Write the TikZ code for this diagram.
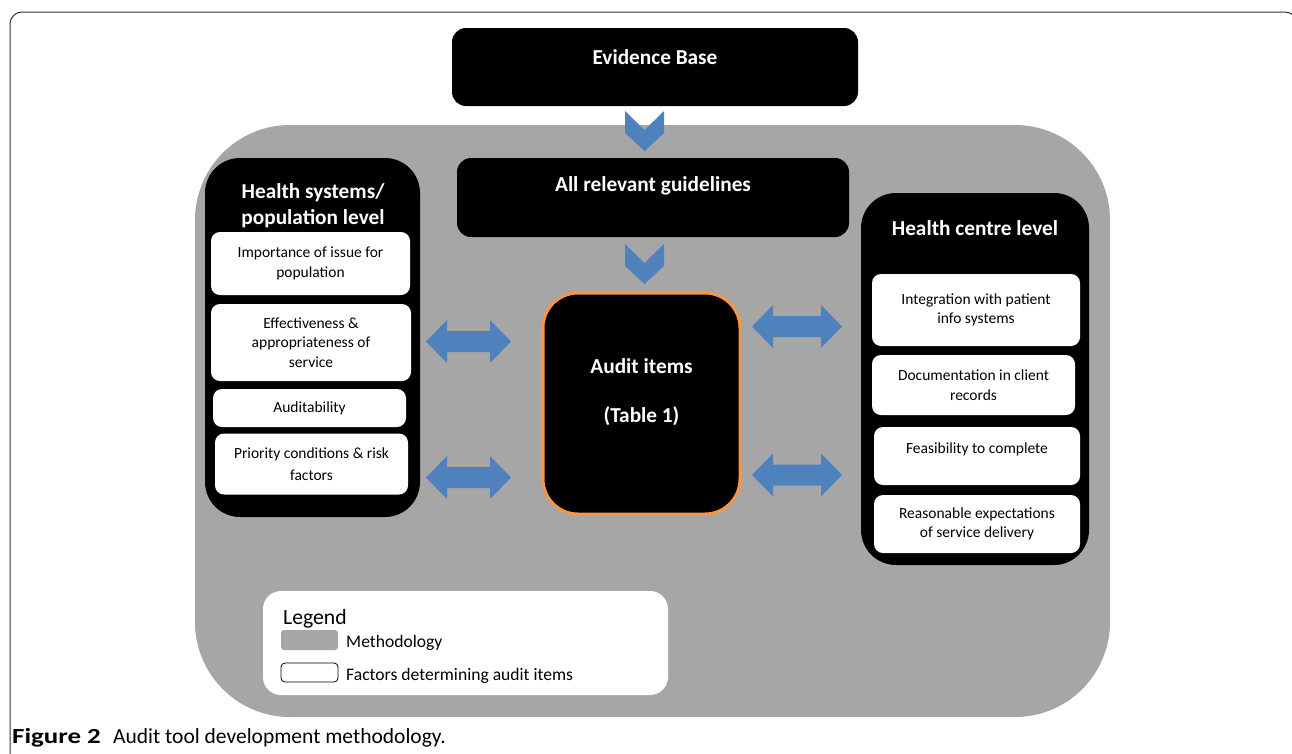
\documentclass[tikz,border=0pt]{standalone}
\usepackage{fontspec}
\setmainfont{Carlito}
\usetikzlibrary{positioning}
\definecolor{method}{RGB}{166,166,166}
\definecolor{steel}{RGB}{79,129,189}
\definecolor{tangerine}{RGB}{247,150,70}
\definecolor{frameline}{RGB}{50,50,50}
\tikzset{
  panel/.style={fill=black,rounded corners=#1,inner sep=0pt},
  panel/.default=14pt,
  factor/.style={fill=white,rounded corners=9pt,inner sep=0pt,align=center,
    font=\fontsize{15.5}{19.5}\selectfont},
  heading/.style={text=white,align=center,font=\fontsize{21.3}{26}\selectfont\bfseries},
  legendtxt/.style={anchor=west,inner sep=0pt,font=\fontsize{17.6}{20}\selectfont},
  % blue block arrows
  pics/chevron/.style={code={
    \fill[steel] (-19.5,-20) -- (0,-1) -- (19.5,-20) -- (19.5,2) -- (0,20) -- (-19.5,2) -- cycle;
  }},
  pics/dblarrow/.style={code={
    \fill[steel] (-#1,0) -- ({-#1+21},-21.5) -- ({-#1+21},-10.5) -- ({#1-21},-10.5) -- ({#1-21},-21.5)
      -- (#1,0) -- ({#1-21},21.5) -- ({#1-21},10.5) -- ({-#1+21},10.5) -- ({-#1+21},21.5) -- cycle;
  }},
  pics/dblarrow/.default=42.5,
}

\begin{document}
\begin{tikzpicture}[x=1pt,y=-1pt]
  \useasboundingbox (0,0) rectangle (1292,753);
  \draw[frameline,line width=1pt,rounded corners=12pt] (1297,770) -- (1297,12) -- (10,12) -- (10,770);
  % methodology area
  \node[fill=method,rounded corners=95pt,inner sep=0pt,minimum width=915pt,minimum height=592pt] (methodarea) at (652.5,421) {};
  % top boxes
  \node[panel,minimum width=406pt,minimum height=78pt] (evidence) at (655,67) {};
  \node[heading] (evidencetxt) at (655,57) {Evidence Base};
  \node[panel,minimum width=392pt,minimum height=79pt] (guides) at (653,197.5) {};
  \node[heading] (guidestxt) at (653,186) {All relevant guidelines};
  \pic (down1) at (644.5,131) {chevron};
  \pic (down2) at (644.5,264) {chevron};
  % audit items
  \node[panel=35pt,draw=tangerine,line width=3pt,minimum width=197pt,minimum height=221pt] (audit) at (641.5,403.5) {};
  \node[heading,font=\fontsize{21.3}{25}\selectfont\bfseries] (audittxt) at (641.5,392.5) {Audit items\\[24pt](Table 1)};
  % health systems level
  \node[panel=35pt,minimum width=215pt,minimum height=359pt] (population) at (312.5,337.5) {};
  \node[heading] (populationtxt) at (313,206) {Health systems/\\population level};
  \node[factor,minimum width=199pt,minimum height=63pt] (importance) at (310.5,263.5) {Importance of issue for\\population};
  \node[factor,minimum width=200pt,minimum height=77pt] (effective) at (311,342.5) {Effectiveness \&\\appropriateness of\\service};
  \node[factor,minimum width=193pt,minimum height=38pt] (auditable) at (309.5,408) {Auditability};
  \node[factor,minimum width=193pt,minimum height=61pt] (priority) at (311.5,464) {Priority conditions \& risk\\[3pt]factors};
  % health centre level
  \node[panel=35pt,minimum width=228pt,minimum height=372pt] (centre) at (975,379) {};
  \node[heading] (centretxt) at (975,228) {Health centre level};
  \node[factor,minimum width=208pt,minimum height=72pt] (integration) at (976,310) {Integration with patient\\info systems};
  \node[factor,minimum width=203pt,minimum height=60pt] (records) at (973.5,385) {Documentation in client\\records};
  \node[factor,minimum width=206pt,minimum height=58pt] (feasible) at (977,456) {};
  \node[font=\fontsize{15.5}{19.5}\selectfont] (feasibletxt) at (977,449) {Feasibility to complete};
  \node[factor,minimum width=206pt,minimum height=58pt] (expect) at (977,524) {Reasonable expectations\\of service delivery};
  % two-way links
  \pic (linkl1) at (468.5,341.5) {dblarrow};
  \pic (linkl2) at (468.5,477.5) {dblarrow};
  \pic (linkr1) at (797,326.5) {dblarrow=45};
  \pic (linkr2) at (797,475) {dblarrow=45};
  % legend
  \node[fill=white,rounded corners=18pt,inner sep=0pt,minimum width=405pt,minimum height=104pt] (legend) at (465.5,643) {};
  \node[legendtxt,font=\fontsize{21.7}{24}\selectfont] (legendtitle) at (283,619) {Legend};
  \node[fill=method,rounded corners=3pt,inner sep=0pt,minimum width=57pt,minimum height=20pt] (swatchgray) at (309.5,640) {};
  \node[legendtxt] (methodtxt) at (346,643) {Methodology};
  \node[draw=black,fill=white,line width=0.8pt,rounded corners=4pt,inner sep=0pt,minimum width=57pt,minimum height=19pt] (swatchwhite) at (309.5,672.5) {};
  \node[legendtxt] (factortxt) at (346,676) {Factors determining audit items};
  % caption
  \node[anchor=west,inner sep=0pt,font=\fontsize{21.5}{24}\selectfont] (caption) at (12,738) {\makebox[101pt][l]{\scalebox{1.25}[1]{\textbf{Figure 2}}}Audit tool development methodology.};
\end{tikzpicture}
\end{document}
